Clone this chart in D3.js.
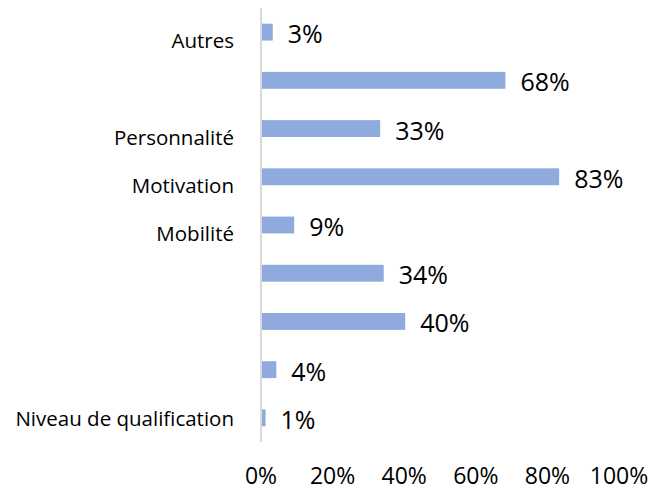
<!DOCTYPE html>
<html>
<head>
<meta charset="utf-8">
<script src="https://cdn.jsdelivr.net/npm/d3@7"></script>
<style>
  body { margin: 0; background: #fff; }
  svg { display: block; font-family: "Open Sans", sans-serif; }
</style>
</head>
<body>
<div id="chart"></div>
<script>
const categories = ["Autres", "", "Personnalité", "Motivation", "Mobilité", "", "", "", "Niveau de qualification"];
const values = [0.03, 0.68, 0.33, 0.83, 0.09, 0.34, 0.40, 0.04, 0.01];
const ticks = [0, 0.2, 0.4, 0.6, 0.8, 1];

const width = 653, height = 490;
const margin = { top: 8, right: 34, bottom: 48, left: 261 };

const data = categories.map((c, i) => ({ id: i, label: c, value: values[i] }));

const svg = d3.select("#chart").append("svg")
  .attr("width", width).attr("height", height);

const x = d3.scaleLinear().domain([0, 1]).range([margin.left, width - margin.right]);
const y = d3.scaleBand().domain(data.map(d => d.id))
  .range([margin.top, height - margin.bottom]).paddingInner(0.65).paddingOuter(0.325);

svg.selectAll("rect.bar").data(data).enter().append("rect")
  .attr("class", "bar")
  .attr("x", x(0) + 1)
  .attr("y", d => y(d.id))
  .attr("width", d => x(d.value) - x(0))
  .attr("height", y.bandwidth())
  .attr("fill", "#8faadc");

// vertical axis line
svg.append("line")
  .attr("x1", x(0)).attr("x2", x(0))
  .attr("y1", margin.top).attr("y2", height - margin.bottom)
  .attr("stroke", "#d9d9d9").attr("stroke-width", 2);

// value labels
svg.selectAll("text.val").data(data).enter().append("text")
  .attr("class", "val")
  .attr("x", d => x(d.value) + 16)
  .attr("y", d => y(d.id) + y.bandwidth() / 2 + 11)
  .attr("font-size", 25)
  .attr("fill", "#000")
  .text(d => d3.format(".0%")(d.value));

// category labels
svg.selectAll("text.cat").data(data.filter(d => d.label)).enter().append("text")
  .attr("class", "cat")
  .attr("x", 234)
  .attr("y", d => y(d.id) + y.bandwidth() / 2 + (d.id === 8 ? 8 : 16))
  .attr("text-anchor", "end")
  .attr("font-size", 20.5)
  .attr("fill", "#000")
  .text(d => d.label);

// x tick labels
svg.selectAll("text.tick").data(ticks).enter().append("text")
  .attr("class", "tick")
  .attr("x", d => x(d))
  .attr("y", 484)
  .attr("text-anchor", "middle")
  .attr("font-size", 23)
  .attr("fill", "#000")
  .text(d => d3.format(".0%")(d));
</script>
</body>
</html>
